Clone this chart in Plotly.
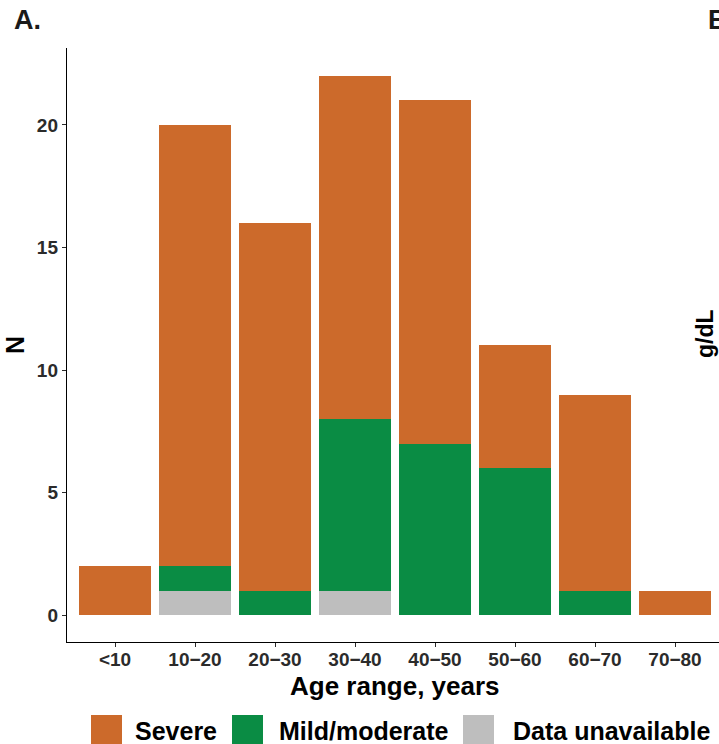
import plotly.graph_objects as go

# Age groups and patient counts by disease severity
age_groups = ["<10", "10−20", "20−30", "30−40", "40−50", "50−60", "60−70", "70−80"]
data_unavailable = [0, 1, 0, 1, 0, 0, 0, 0]
mild_moderate = [0, 1, 1, 7, 7, 6, 1, 0]
severe = [2, 18, 15, 14, 14, 5, 8, 1]

series_names = ["Data unavailable", "Mild/moderate", "Severe"]
series_values = [data_unavailable, mild_moderate, severe]
series_colors = ["#BEBEBE", "#0A8C44", "#CC6A2B"]

W, H = 719, 744
L, T, B = 67, 48, 102
plot_w = W - L
plot_h = H - T - B

FONT = "Liberation Sans, Arial, sans-serif"
TICK_COLOR = "#2b2b2b"


def px_x(px):
    return (px - L) / plot_w


def px_y(py):
    return (H - B - py) / plot_h


fig = go.Figure()
for name, vals, col in zip(series_names, series_values, series_colors):
    fig.add_trace(go.Bar(
        x=list(range(len(age_groups))), y=vals, name=name,
        marker=dict(color=col, line=dict(width=0)),
        showlegend=False,
    ))

fig.update_layout(
    width=W, height=H,
    margin=dict(l=L, r=0, t=T, b=B, pad=0),
    barmode="stack", bargap=0.1,
    paper_bgcolor="white", plot_bgcolor="white",
    font=dict(family=FONT, color="black"),
    xaxis=dict(
        range=[-0.6, -0.6 + plot_w / 80.0],
        tickmode="array", tickvals=list(range(len(age_groups))), ticktext=age_groups,
        showline=True, linecolor="black", linewidth=1.4,
        ticks="outside", ticklen=4, tickwidth=1, tickcolor=TICK_COLOR,
        ticklabelstandoff=-4,
        tickfont=dict(size=19, color=TICK_COLOR, family=FONT, weight="bold"),
        showgrid=False, zeroline=False,
    ),
    yaxis=dict(
        range=[-1.1, 23.14],
        tickvals=[0, 5, 10, 15, 20],
        showline=True, linecolor="black", linewidth=1.4,
        ticks="outside", ticklen=4, tickwidth=1, tickcolor=TICK_COLOR,
        tickfont=dict(size=19, color=TICK_COLOR, family=FONT, weight="bold"),
        showgrid=False, zeroline=False,
    ),
)

annotations = [
    dict(text="<b>A.</b>", x=px_x(12), y=px_y(20), xanchor="left", yanchor="middle",
         font=dict(size=27, family=FONT, color="#1a1a1a")),
    dict(text="<b>B.</b>", x=px_x(706), y=px_y(20), xanchor="left", yanchor="middle",
         font=dict(size=27, family=FONT, color="#1a1a1a")),
    dict(text="<b>g/dL</b>", x=px_x(705), y=px_y(334), xanchor="center", yanchor="middle",
         textangle=-90, font=dict(size=23, family=FONT, color="black")),
    dict(text="<b>N</b>", x=px_x(15), y=px_y(345), xanchor="center", yanchor="middle",
         textangle=-90, font=dict(size=25, family=FONT, color="black")),
    dict(text="<b>Age range, years</b>", x=px_x(395), y=px_y(686), xanchor="center",
         yanchor="middle", font=dict(size=26, family=FONT, color="black")),
]

# Legend keys drawn as squares with bold labels underneath the axis title
legend_items = [
    ("Severe", "#CC6A2B", 91, 133),
    ("Mild/moderate", "#0A8C44", 232, 277),
    ("Data unavailable", "#BEBEBE", 463, 511),
]
shapes = []
for label, col, sx, tx in legend_items:
    shapes.append(dict(type="rect", xref="paper", yref="paper",
                       x0=px_x(sx), x1=px_x(sx + 31), y0=px_y(715), y1=px_y(747),
                       fillcolor=col, line=dict(width=0)))
    annotations.append(dict(text=f"<b>{label}</b>", x=px_x(tx), y=px_y(731),
                            xanchor="left", yanchor="middle",
                            font=dict(size=25, family=FONT, color="black")))

for a in annotations:
    a.update(xref="paper", yref="paper", showarrow=False)

fig.update_layout(annotations=annotations, shapes=shapes)

fig.write_html("out.html")
